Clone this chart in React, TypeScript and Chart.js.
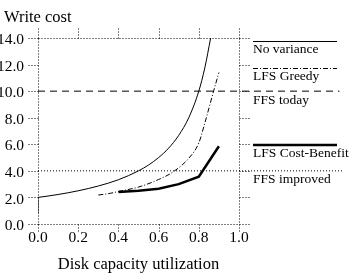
import { useEffect, useRef } from "react";
import { Chart, registerables } from "chart.js";

Chart.register(...registerables);

const FONT = "'Liberation Serif', 'Times New Roman', serif";

const xTicks = [0, 0.2, 0.4, 0.6, 0.8, 1.0];
const yTicks = [0, 2, 4, 6, 8, 10, 12, 14];

const noVarianceX = [0, 0.1, 0.2, 0.3, 0.4, 0.5, 0.55, 0.6, 0.65, 0.7, 0.75, 0.8, 0.83, 0.859];
const noVarianceY = [2.0, 2.22, 2.5, 2.86, 3.33, 4.0, 4.44, 5.0, 5.71, 6.67, 8.0, 10.0, 11.76, 14.0];
const stubX = [0, 0];
const stubY = [0.8, 2.0];
const greedyX = [0.3, 0.36, 0.4, 0.5, 0.6, 0.67, 0.75, 0.8, 0.83, 0.87, 0.9];
const greedyY = [2.18, 2.31, 2.45, 2.78, 3.35, 3.9, 4.95, 6.1, 7.6, 9.8, 11.4];
const costBenefitX = [0.4, 0.5, 0.6, 0.7, 0.8, 0.9];
const costBenefitY = [2.4, 2.5, 2.65, 3.0, 3.56, 5.85];
const ffsTodayX = [0, 1.5];
const ffsTodayY = [10, 10];
const ffsImprovedX = [0, 1.52];
const ffsImprovedY = [4, 4];

const legendLabels = ["No variance", "LFS Greedy", "FFS today", "LFS Cost-Benefit", "FFS improved"];
const legendLevels = [13.8, 11.75, 10, 5.95, 4];
const legendSample = [true, true, false, true, false];

const yTitle = "Write cost";
const xTitle = "Disk capacity utilization";

const pts = (xs: number[], ys: number[]) => xs.map((x, i) => ({ x, y: ys[i] }));

const DOT = [1, 2];
const DASH = [7, 5];
const DASHDOT = [5, 2, 1, 2];

const framePlugin = {
  id: "frame",
  beforeDatasetsDraw(chart: any) {
    const { ctx, chartArea } = chart;
    const xs = chart.scales.x;
    const ys = chart.scales.y;
    const L = Math.round(chartArea.left) + 0.5;
    const R = Math.round(chartArea.right) + 0.5;
    const T = Math.round(chartArea.top) + 0.5;
    const B = Math.round(chartArea.bottom) + 0.5;
    ctx.save();
    ctx.strokeStyle = "#000";
    ctx.lineWidth = 1;
    ctx.setLineDash(DOT);
    const line = (x1: number, y1: number, x2: number, y2: number) => {
      ctx.beginPath();
      ctx.moveTo(x1, y1);
      ctx.lineTo(x2, y2);
      ctx.stroke();
    };
    line(L, T, R, T);
    line(L, B, R, B);
    line(L, T, L, B);
    line(R, T, R, B);
    xTicks.forEach((v) => {
      const px = Math.round(xs.getPixelForValue(v)) + 0.5;
      line(px, T - 10, px, T);
      line(px, B, px, B + 9);
    });
    yTicks.forEach((v) => {
      const py = Math.round(ys.getPixelForValue(v)) + 0.5;
      line(L - 10, py, L, py);
      line(R, py, R + 11, py);
    });
    ctx.restore();
  },
  afterDraw(chart: any) {
    const { ctx } = chart;
    const ys = chart.scales.y;
    ctx.save();
    ctx.fillStyle = "#000";
    ctx.textBaseline = "middle";
    ctx.textAlign = "left";
    ctx.font = `16.5px ${FONT}`;
    ctx.fillText(yTitle, 4, 18);
    ctx.font = `13.5px ${FONT}`;
    const styles = [
      { dash: [] as number[], width: 1 },
      { dash: DASHDOT, width: 1 },
      { dash: DASH, width: 1 },
      { dash: [] as number[], width: 2.5 },
      { dash: DOT, width: 1 },
    ];
    legendLabels.forEach((label, i) => {
      const py = ys.getPixelForValue(legendLevels[i]);
      if (legendSample[i]) {
        ctx.save();
        ctx.strokeStyle = "#000";
        ctx.lineWidth = styles[i].width;
        ctx.setLineDash(styles[i].dash);
        const yy = styles[i].width === 1 ? Math.round(py) + 0.5 : py;
        ctx.beginPath();
        ctx.moveTo(253, yy);
        ctx.lineTo(337, yy);
        ctx.stroke();
        ctx.restore();
      }
      ctx.fillText(label, 253, py + 9);
    });
    ctx.restore();
  },
};

export default function App() {
  const canvasRef = useRef<HTMLCanvasElement | null>(null);

  useEffect(() => {
    const canvas = canvasRef.current;
    if (!canvas) return;
    const base = {
      borderColor: "#000",
      backgroundColor: "#000",
      pointRadius: 0,
      fill: false,
    };
    const chart = new Chart(canvas, {
      type: "line",
      data: {
        datasets: [
          { ...base, label: "No variance", data: pts(noVarianceX, noVarianceY), borderWidth: 1, cubicInterpolationMode: "monotone" },
          { ...base, label: "No variance stub", data: pts(stubX, stubY), borderWidth: 1 },
          { ...base, label: "LFS Greedy", data: pts(greedyX, greedyY), borderWidth: 1, borderDash: DASHDOT, cubicInterpolationMode: "monotone" },
          { ...base, label: "LFS Cost-Benefit", data: pts(costBenefitX, costBenefitY), borderWidth: 2.5, tension: 0 },
          { ...base, label: "FFS today", data: pts(ffsTodayX, ffsTodayY), borderWidth: 1, borderDash: DASH, clip: false },
          { ...base, label: "FFS improved", data: pts(ffsImprovedX, ffsImprovedY), borderWidth: 1, borderDash: DOT, clip: false },
        ] as any,
      },
      options: {
        animation: false,
        responsive: true,
        maintainAspectRatio: false,
        devicePixelRatio: 1,
        layout: { padding: { top: 38, right: 112, left: 0, bottom: 0 } },
        plugins: { legend: { display: false }, tooltip: { enabled: false }, title: { display: false } },
        scales: {
          x: {
            type: "linear",
            min: 0,
            max: 1,
            afterBuildTicks: (scale: any) => {
              scale.ticks = xTicks.map((v) => ({ value: v }));
            },
            afterFit: (scale: any) => {
              scale.height = 52;
            },
            ticks: {
              color: "#000",
              font: { family: FONT, size: 15.5 },
              padding: 5,
              maxRotation: 0,
              autoSkip: false,
              callback: (v: any) => Number(v).toFixed(1),
            },
            grid: { display: false, drawTicks: false },
            border: { display: false },
            title: {
              display: true,
              text: xTitle,
              color: "#000",
              font: { family: FONT, size: 16.5 },
              padding: { top: 0, bottom: 1 },
            },
          },
          y: {
            type: "linear",
            min: 0,
            max: 14,
            afterBuildTicks: (scale: any) => {
              scale.ticks = yTicks.map((v) => ({ value: v }));
            },
            afterFit: (scale: any) => {
              scale.width = 38;
            },
            ticks: {
              color: "#000",
              font: { family: FONT, size: 15.5 },
              padding: 14,
              labelOffset: 2,
              autoSkip: false,
              callback: (v: any) => Number(v).toFixed(1),
            },
            grid: { display: false, drawTicks: false },
            border: { display: false },
          },
        },
      },
      plugins: [framePlugin],
    });
    return () => chart.destroy();
  }, []);

  return (
    <div style={{ position: "absolute", left: 0, top: 0, width: 351, height: 276, background: "#fff" }}>
      <canvas ref={canvasRef} />
    </div>
  );
}
